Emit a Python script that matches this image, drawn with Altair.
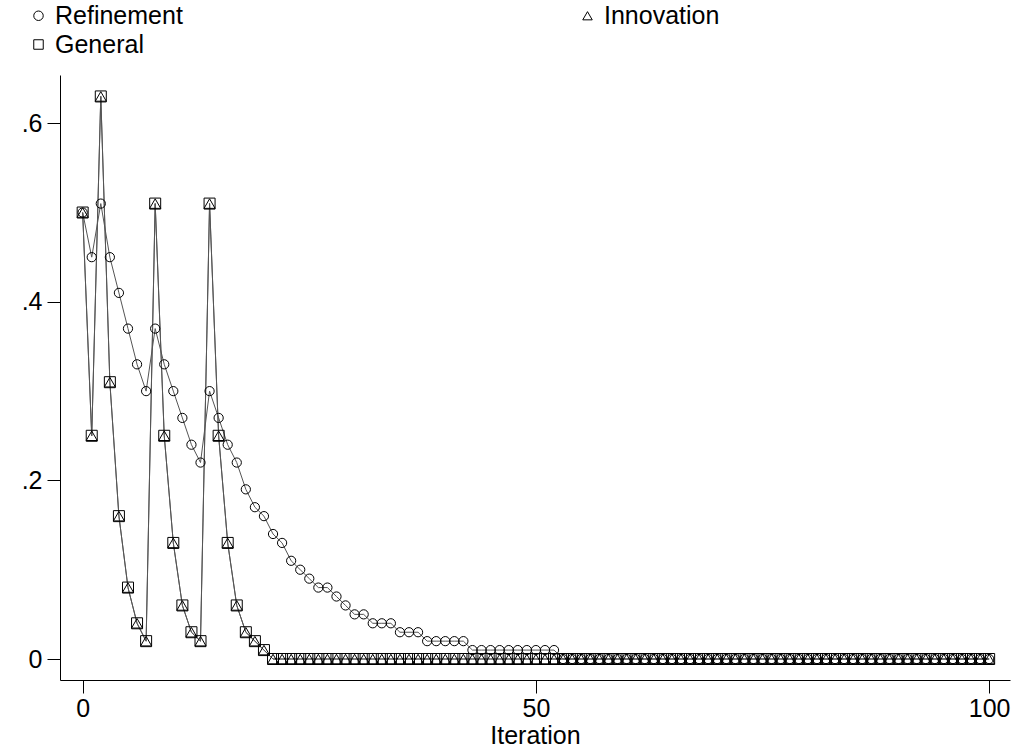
import altair as alt
import pandas as pd

iteration = list(range(101))

refinement = [
    0.50, 0.45, 0.51, 0.45, 0.41, 0.37, 0.33, 0.30, 0.37, 0.33,
    0.30, 0.27, 0.24, 0.22, 0.30, 0.27, 0.24, 0.22, 0.19, 0.17,
    0.16, 0.14, 0.13, 0.11, 0.10, 0.09, 0.08, 0.08, 0.07, 0.06,
    0.05, 0.05, 0.04, 0.04, 0.04, 0.03, 0.03, 0.03, 0.02, 0.02,
    0.02, 0.02, 0.02, 0.01, 0.01, 0.01, 0.01, 0.01, 0.01, 0.01,
    0.01, 0.01, 0.01, 0.00, 0.00, 0.00, 0.00, 0.00, 0.00, 0.00,
    0.00, 0.00, 0.00, 0.00, 0.00, 0.00, 0.00, 0.00, 0.00, 0.00,
    0.00, 0.00, 0.00, 0.00, 0.00, 0.00, 0.00, 0.00, 0.00, 0.00,
    0.00, 0.00, 0.00, 0.00, 0.00, 0.00, 0.00, 0.00, 0.00, 0.00,
    0.00, 0.00, 0.00, 0.00, 0.00, 0.00, 0.00, 0.00, 0.00, 0.00,
    0.00,
]

innovation = [
    0.50, 0.25, 0.63, 0.31, 0.16, 0.08, 0.04, 0.02, 0.51, 0.25,
    0.13, 0.06, 0.03, 0.02, 0.51, 0.25, 0.13, 0.06, 0.03, 0.02,
    0.01, 0.00, 0.00, 0.00, 0.00, 0.00, 0.00, 0.00, 0.00, 0.00,
    0.00, 0.00, 0.00, 0.00, 0.00, 0.00, 0.00, 0.00, 0.00, 0.00,
    0.00, 0.00, 0.00, 0.00, 0.00, 0.00, 0.00, 0.00, 0.00, 0.00,
    0.00, 0.00, 0.00, 0.00, 0.00, 0.00, 0.00, 0.00, 0.00, 0.00,
    0.00, 0.00, 0.00, 0.00, 0.00, 0.00, 0.00, 0.00, 0.00, 0.00,
    0.00, 0.00, 0.00, 0.00, 0.00, 0.00, 0.00, 0.00, 0.00, 0.00,
    0.00, 0.00, 0.00, 0.00, 0.00, 0.00, 0.00, 0.00, 0.00, 0.00,
    0.00, 0.00, 0.00, 0.00, 0.00, 0.00, 0.00, 0.00, 0.00, 0.00,
    0.00,
]

general = [
    0.50, 0.25, 0.63, 0.31, 0.16, 0.08, 0.04, 0.02, 0.51, 0.25,
    0.13, 0.06, 0.03, 0.02, 0.51, 0.25, 0.13, 0.06, 0.03, 0.02,
    0.01, 0.00, 0.00, 0.00, 0.00, 0.00, 0.00, 0.00, 0.00, 0.00,
    0.00, 0.00, 0.00, 0.00, 0.00, 0.00, 0.00, 0.00, 0.00, 0.00,
    0.00, 0.00, 0.00, 0.00, 0.00, 0.00, 0.00, 0.00, 0.00, 0.00,
    0.00, 0.00, 0.00, 0.00, 0.00, 0.00, 0.00, 0.00, 0.00, 0.00,
    0.00, 0.00, 0.00, 0.00, 0.00, 0.00, 0.00, 0.00, 0.00, 0.00,
    0.00, 0.00, 0.00, 0.00, 0.00, 0.00, 0.00, 0.00, 0.00, 0.00,
    0.00, 0.00, 0.00, 0.00, 0.00, 0.00, 0.00, 0.00, 0.00, 0.00,
    0.00, 0.00, 0.00, 0.00, 0.00, 0.00, 0.00, 0.00, 0.00, 0.00,
    0.00,
]

series_names = ["Refinement", "Innovation", "General"]
series_values = [refinement, innovation, general]
series_shapes = ["circle", "triangle-up", "square"]

rows = []
for name, vals in zip(series_names, series_values):
    for it, v in zip(iteration, vals):
        rows.append({"Iteration": it, "value": v, "series": name})
df = pd.DataFrame(rows)

FONT = "Liberation Sans"

x_enc = alt.X(
    "Iteration:Q",
    scale=alt.Scale(domain=[-2.5, 102.3], nice=False, zero=False),
    axis=alt.Axis(
        values=[0, 50, 100], title="Iteration", grid=False,
        domainColor="black", domainWidth=1, tickColor="black", tickSize=13,
        labelFontSize=25, labelFont=FONT, labelColor="black", labelPadding=3,
        titleFontSize=25, titleFont=FONT, titleFontWeight="normal",
        titleColor="black", titlePadding=2,
    ),
)
y_enc = alt.Y(
    "value:Q",
    scale=alt.Scale(domain=[-0.0235, 0.654], nice=False, zero=False),
    axis=alt.Axis(
        values=[0, 0.2, 0.4, 0.6], title=None, grid=False,
        labelExpr="datum.value == 0 ? '0' : replace(toString(datum.value), '0.', '.')",
        domainColor="black", domainWidth=1, tickColor="black", tickSize=13,
        labelFontSize=25, labelFont=FONT, labelColor="black", labelPadding=5,
    ),
)

shape_enc = alt.Shape(
    "series:N",
    scale=alt.Scale(domain=series_names, range=series_shapes),
    legend=alt.Legend(
        title=None, orient="none", legendX=-34, legendY=-72, columns=2,
        direction="horizontal", values=series_names,
        columnPadding=392, rowPadding=3, labelFontSize=25, labelFont=FONT,
        labelColor="black", labelOffset=4, symbolSize=90,
        symbolStrokeColor="black", symbolStrokeWidth=1,
        symbolFillColor="white",
    ),
)

base = alt.Chart(df)

lines = base.mark_line(color="#555555", strokeWidth=1).encode(
    x=x_enc, y=y_enc, detail="series:N", order="Iteration:Q"
)

layers = [lines]
marker_sizes = {"Refinement": 85, "Innovation": 121, "General": 121}
for name in series_names:
    layers.append(
        base.transform_filter(alt.datum.series == name)
        .mark_point(filled=False, color="black", strokeWidth=1, opacity=1,
                    size=marker_sizes[name])
        .encode(x=x_enc, y=y_enc, shape=shape_enc)
    )

chart = (
    alt.layer(*layers)
    .properties(
        width=950, height=605,
        autosize=alt.AutoSizeParams(type="none"),
        padding={"left": 60, "top": 75, "right": 12, "bottom": 73},
        background="white",
    )
    .configure_view(stroke=None)
)

chart.save("out.html", embed_options={"renderer": "svg", "actions": False})
